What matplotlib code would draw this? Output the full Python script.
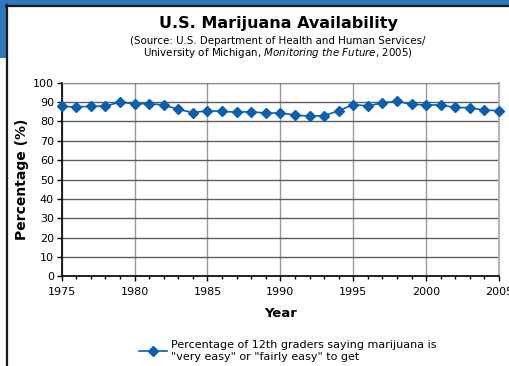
import matplotlib
matplotlib.use("Agg")
import matplotlib.pyplot as plt
from matplotlib.patches import Rectangle
from matplotlib.lines import Line2D
from matplotlib.ticker import MultipleLocator

years = list(range(1975, 2006))
pct = [87.8, 87.4, 87.9, 87.8, 90.1, 89.0, 89.2, 88.5, 86.2, 84.6,
       85.5, 85.2, 84.8, 85.0, 84.3, 84.4, 83.3, 82.7, 83.0, 85.5,
       88.7, 88.0, 89.6, 90.4, 88.9, 88.5, 88.5, 87.2, 87.1, 85.8, 85.6]
xticks = [1975, 1980, 1985, 1990, 1995, 2000, 2005]
yticks = list(range(0, 101, 10))

W, H = 509, 366
fig = plt.figure(figsize=(W / 100, H / 100), dpi=100)
fig.patch.set_facecolor("white")

def fx(px):
    return px / W

def fy(py):
    return 1 - py / H

# decorative frame: blue band and dark border
fig.patches.append(Rectangle((0, fy(5)), 1, 5 / H, transform=fig.transFigure,
                             facecolor="#2f78bb", edgecolor="none", zorder=0))
fig.patches.append(Rectangle((0, fy(58)), fx(6), 58 / H, transform=fig.transFigure,
                             facecolor="#2f78bb", edgecolor="none", zorder=0))
fig.lines.append(Line2D([fx(6.5), fx(6.5)], [0, fy(5)], transform=fig.transFigure,
                        color="#1a1a1a", lw=1.6))
fig.lines.append(Line2D([fx(6), 1], [fy(5.8), fy(5.8)], transform=fig.transFigure,
                        color="#1a1a1a", lw=1.6))

ax = fig.add_axes([fx(61.7), fy(276.4), fx(499) - fx(61.7), (276.4 - 82.7) / H])
ax.set_xlim(1975, 2005)
ax.set_ylim(0, 100)

ax.plot(years, pct, color="#0a5fae", lw=1.2, marker="D", markersize=4.8,
        markerfacecolor="#0a5fae", markeredgecolor="#0a5fae", zorder=3, clip_on=False,
        label='Percentage of 12th graders saying marijuana is\n"very easy" or "fairly easy" to get')

ax.set_xticks(xticks)
ax.set_yticks(yticks)
ax.xaxis.set_minor_locator(MultipleLocator(1))
ax.grid(axis="y", which="major", color="#5e5e5e", lw=1.0)
ax.grid(axis="x", which="major", color="#9a9a9a", lw=1.0)
ax.set_axisbelow(True)

ax.spines["top"].set_color("#8a8a8a")
ax.spines["right"].set_color("#b5b5b5")
ax.spines["right"].set_linewidth(1.5)
ax.spines["left"].set_color("black")
ax.spines["bottom"].set_color("black")
ax.spines["left"].set_linewidth(1.2)
ax.spines["bottom"].set_linewidth(1.2)

ax.tick_params(axis="both", which="major", labelsize=8, colors="black", length=3.5, width=1)
ax.tick_params(axis="x", which="major", pad=4)
ax.tick_params(axis="y", which="major", pad=2)
ax.tick_params(axis="x", which="minor", length=2.5, width=1, color="black")
ax.tick_params(axis="y", which="minor", length=0)

ax.set_xlabel("Year", fontsize=9.5, fontweight="bold", labelpad=7)
ax.set_ylabel("Percentage (%)", fontsize=10, fontweight="bold", labelpad=3)

fig.text(fx(278), fy(23.5), "U.S. Marijuana Availability", ha="center", va="center",
         fontsize=11.5, fontweight="bold")
fig.text(fx(278), fy(41), "(Source: U.S. Department of Health and Human Services/",
         ha="center", va="center", fontsize=7.4)
fig.text(fx(278), fy(53),
         r"University of Michigan, $\it{Monitoring\ the\ Future}$, 2005)",
         ha="center", va="center", fontsize=7.4)

leg = fig.legend(loc="center left", bbox_to_anchor=(fx(133), fy(351)), frameon=False,
                 fontsize=8, handlelength=2.6, handletextpad=0.3, borderpad=0,
                 labelspacing=0.2)

fig.savefig("out.png", dpi=100)
